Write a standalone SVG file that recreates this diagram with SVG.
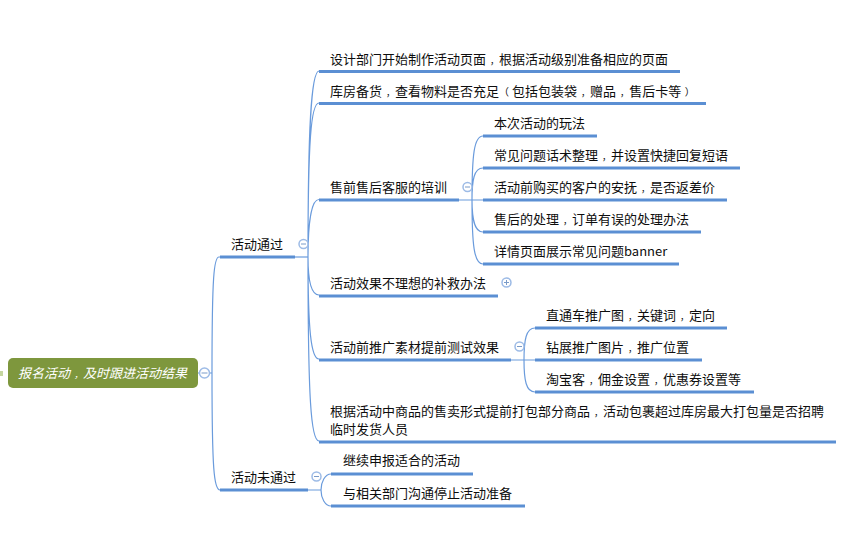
<svg xmlns="http://www.w3.org/2000/svg" width="843" height="539" viewBox="0 0 843 539">
<style>
text{font-family:"Noto Sans CJK SC","Liberation Sans",sans-serif;font-size:13px;fill:#0d0d0d}
.p{font-size:9px}
.q{font-size:10px}
.u{stroke:#5b8fd3;stroke-width:3;fill:none}
.c{stroke:#6a9bdc;stroke-width:1.2;fill:none}
.t{fill:#fff;stroke:#9dbbe6;stroke-width:1.5}
.s{stroke:#7a9bc8;stroke-width:1;fill:none}
</style>
<rect width="843" height="539" fill="#fff"/>
<g id="connectors">
<path class="c" d="M198 373H212M220 257H219C214 257 212 275 212 373C212 470 214 490 220 490"/>
<path class="c" d="M295 257H308"/>
<path class="c" d="M308 257C308 130 311 71 319 71M308 257C308 140 311 103 319 103M308 257C308 225 311 199.500 319 199.500M308 257C308 280 311 295 319 295M308 257C308 330 311 359 319 359M308 257C308 400 311 441 319 441"/>
<path class="c" d="M459 200H483M472 200C472 155 474 136 483 136M472 200C472 180 474 168 483 168M472 200C472 218 474 232 483 232M472 200C472 245 474 264 483 264"/>
<path class="c" d="M511 360H535M524 360C524 340 526 328 535 328M524 360C524 380 526 392 535 392"/>
<path class="c" d="M308 490H321M321 490C321 482 325 474 331 474M321 490C321 498 325 506 331 506"/>
</g>
<g id="root">
<rect x="0" y="371" width="3" height="5" fill="#c5d6a0"/>
<rect x="8" y="358" width="190" height="30" rx="5" fill="#7e973d"/>
<text x="18" y="378" style="fill:#fff;font-style:italic">报名活动<tspan class="p" dx="4">，</tspan>及时跟进活动结果</text>
<circle class="t" cx="204.500" cy="373" r="5"/><path class="s" d="M201.500 373H207.500"/>
</g>
<g id="n1">
<path class="u" d="M220 257H295"/><text x="231" y="249">活动通过</text>
<circle class="t" cx="303.500" cy="244" r="4.500"/><path class="s" d="M301 244H306"/>
</g>
<g id="n2">
<path class="u" d="M220 490H308"/><text x="231" y="482">活动未通过</text>
<circle class="t" cx="316.500" cy="476.500" r="4.500"/><path class="s" d="M314 476.500H319"/>
</g>
<g id="n1-1"><path class="u" d="M319 71.500H680"/><text x="330" y="64">设计部门开始制作活动页面<tspan class="p" dx="4">，</tspan>根据活动级别准备相应的页面</text></g>
<g id="n1-2"><path class="u" d="M319 103.500H706"/><text x="330" y="96">库房备货<tspan class="p" dx="4">，</tspan>查看物料是否充足<tspan class="q">（</tspan><tspan dx="3">包</tspan>括包装袋<tspan class="p" dx="4">，</tspan>赠品<tspan class="p" dx="4">，</tspan>售后卡等<tspan class="q" dx="3.500">）</tspan></text></g>
<g id="n1-3"><path class="u" d="M319 200H459"/><text x="330" y="192">售前售后客服的培训</text>
<circle class="t" cx="467.500" cy="187" r="4.500"/><path class="s" d="M465 187H470"/></g>
<g id="n1-3-1"><path class="u" d="M483 136H597"/><text x="494" y="128">本次活动的玩法</text></g>
<g id="n1-3-2"><path class="u" d="M483 168H740"/><text x="494" y="160">常见问题话术整理<tspan class="p" dx="4">，</tspan>并设置快捷回复短语</text></g>
<g id="n1-3-3"><path class="u" d="M483 200H727"/><text x="494" y="192">活动前购买的客户的安抚<tspan class="p" dx="4">，</tspan>是否返差价</text></g>
<g id="n1-3-4"><path class="u" d="M483 232H701"/><text x="494" y="224">售后的处理<tspan class="p" dx="4">，</tspan>订单有误的处理办法</text></g>
<g id="n1-3-5"><path class="u" d="M483 264H679"/><text x="494" y="256">详情页面展示常见问题banner</text></g>
<g id="n1-4"><path class="u" d="M319 296H498"/><text x="330" y="288">活动效果不理想的补救办法</text>
<circle class="t" cx="506.500" cy="282.500" r="4.500"/><path class="s" d="M504 282.500H509M506.500 280V285"/></g>
<g id="n1-5"><path class="u" d="M319 360H511"/><text x="330" y="352">活动前推广素材提前测试效果</text>
<circle class="t" cx="519.500" cy="346.500" r="4.500"/><path class="s" d="M517 346.500H522"/></g>
<g id="n1-5-1"><path class="u" d="M535 328H727"/><text x="546" y="320">直通车推广图<tspan class="p" dx="4">，</tspan>关键词<tspan class="p" dx="4">，</tspan>定向</text></g>
<g id="n1-5-2"><path class="u" d="M535 360H702"/><text x="546" y="352">钻展推广图片<tspan class="p" dx="4">，</tspan>推广位置</text></g>
<g id="n1-5-3"><path class="u" d="M535 392H754"/><text x="546" y="384">淘宝客<tspan class="p" dx="4">，</tspan>佣金设置<tspan class="p" dx="4">，</tspan>优惠券设置等</text></g>
<g id="n1-6"><path class="u" d="M319 442H836"/><text x="330" y="416">根据活动中商品的售卖形式提前打包部分商品<tspan class="p" dx="4">，</tspan>活动包裹超过库房最大打包量是否招聘</text><text x="330" y="434">临时发货人员</text></g>
<g id="n2-1"><path class="u" d="M331 474H473"/><text x="343" y="465">继续申报适合的活动</text></g>
<g id="n2-2"><path class="u" d="M331 506H525"/><text x="343" y="498">与相关部门沟通停止活动准备</text></g>
</svg>
